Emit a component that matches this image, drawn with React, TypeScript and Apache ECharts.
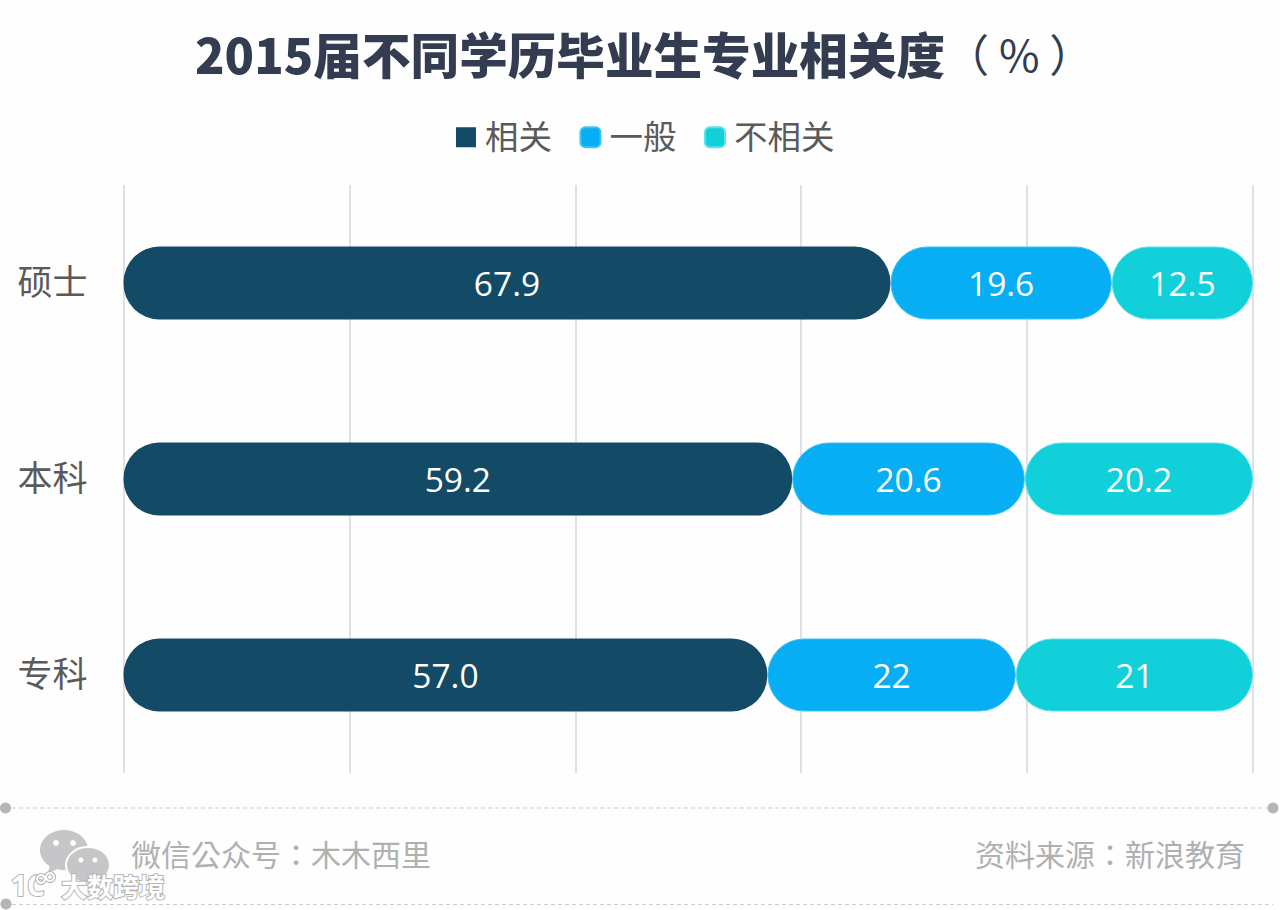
import React, { useEffect, useRef } from "react";
import * as echarts from "echarts";

const categories = ["硕士", "本科", "专科"];
const seriesNames = ["相关", "一般", "不相关"];
const related = [67.9, 59.2, 57.0];
const general = [19.6, 20.6, 22];
const unrelated = [12.5, 20.2, 21];
const relatedLabels = ["67.9", "59.2", "57.0"];
const generalLabels = ["19.6", "20.6", "22"];
const unrelatedLabels = ["12.5", "20.2", "21"];
const colors = ["#134a66", "#07aef3", "#12d0da"];
const CJK = '"Noto Sans CJK SC", "Noto Sans", sans-serif';
const CJK_TC = '"Noto Sans CJK TC", "Noto Sans", sans-serif';

const makeSeries = (name: string, data: number[], labels: string[], color: string, border: string) => ({
  name,
  type: "bar",
  stack: "total",
  data,
  barWidth: 73,
  itemStyle: { color, borderRadius: 36, borderColor: border, borderWidth: border === "transparent" ? 0 : 1 },
  label: {
    show: true,
    position: "inside",
    color: "#ffffff",
    fontSize: 33.5,
    fontFamily: '"Open Sans", sans-serif',
    formatter: (p: any) => labels[p.dataIndex],
  },
});

export default function App() {
  const ref = useRef<HTMLDivElement>(null);
  useEffect(() => {
    document.body.style.margin = "0";
    const chart = echarts.init(ref.current!, null, { renderer: "svg" });
    const dash = { stroke: "#cfcbd2", lineWidth: 1, lineDash: [4, 3] };
    const dot = "#b5b5b8";
    const gray = "#c6c6c8";
    const halo = "#b4b4b4";
    chart.setOption({
      animation: false,
      backgroundColor: "#fefefe",
      color: colors,
      title: {
        left: 195,
        top: 18,
        padding: 0,
        text: "{a|2015届不同学历毕业生专业相关度}{b|（ % ）}",
        textStyle: {
          rich: {
            a: { fontFamily: CJK, fontWeight: 900, fontSize: 48.6, color: "#333c50", lineHeight: 70 },
            b: { fontFamily: CJK, fontWeight: 400, fontSize: 44, color: "#333c50", lineHeight: 70 },
          },
        },
      },
      legend: {
        left: 456,
        top: 118,
        padding: 0,
        itemWidth: 20,
        itemHeight: 20,
        itemGap: 27.5,
        icon: "roundRect",
        selectedMode: false,
        formatter: "{a|{name}}",
        data: [{ name: seriesNames[0], icon: "rect" }, { name: seriesNames[1] }, { name: seriesNames[2] }],
        textStyle: {
          rich: {
            a: { fontFamily: CJK, fontSize: 33.5, color: "#5a5a5a", padding: [0, 0, 5, 4] },
          },
        },
      },
      grid: { left: 123.5, right: 27, top: 185, bottom: 137 },
      xAxis: {
        type: "value",
        min: 0,
        max: 100,
        interval: 20,
        axisLabel: { show: false },
        axisTick: { show: false },
        axisLine: { show: false },
        splitLine: { show: true, lineStyle: { color: "#d5d5dc", width: 1.5 } },
      },
      yAxis: {
        type: "category",
        inverse: true,
        data: categories,
        axisLine: { show: false },
        axisTick: { show: false },
        axisLabel: {
          margin: 36,
          formatter: "{a|{value}}",
          rich: { a: { fontFamily: CJK, fontSize: 35, color: "#5a5a5a", padding: [0, 0, 8, 0] } },
        },
      },
      series: [
        makeSeries(seriesNames[0], related, relatedLabels, colors[0], "transparent"),
        makeSeries(seriesNames[1], general, generalLabels, colors[1], "#3cc4f8"),
        makeSeries(seriesNames[2], unrelated, unrelatedLabels, colors[2], "#55e4ea"),
      ],
      graphic: [
        { type: "line", shape: { x1: 5, y1: 808, x2: 1273, y2: 808 }, style: dash },
        { type: "line", shape: { x1: 5, y1: 904.5, x2: 1273, y2: 904.5 }, style: dash },
        { type: "circle", shape: { cx: 5.5, cy: 808, r: 5.5 }, style: { fill: dot } },
        { type: "circle", shape: { cx: 1273, cy: 808, r: 5.5 }, style: { fill: dot } },
        { type: "circle", shape: { cx: 6, cy: 904, r: 5.5 }, style: { fill: dot } },
        { type: "text", x: 131, y: 838, style: { text: "微信公众号：木木西里", fontFamily: CJK_TC, fontSize: 30, fill: "#b0b0b0" } },
        { type: "text", x: 975, y: 838, style: { text: "资料来源：新浪教育", fontFamily: CJK_TC, fontSize: 30, fill: "#b0b0b0" } },
        // WeChat mark
        { type: "ellipse", shape: { cx: 64, cy: 850, rx: 24, ry: 20 }, style: { fill: gray } },
        { type: "polygon", shape: { points: [[50, 864], [48, 873], [60, 868]] }, style: { fill: gray } },
        { type: "ellipse", shape: { cx: 88, cy: 865, rx: 22, ry: 18 }, style: { fill: gray, stroke: "#fefefe", lineWidth: 2 } },
        { type: "circle", shape: { cx: 56, cy: 843, r: 3 }, style: { fill: "#fefefe" } },
        { type: "circle", shape: { cx: 73, cy: 843, r: 3 }, style: { fill: "#fefefe" } },
        { type: "circle", shape: { cx: 81, cy: 860, r: 2.5 }, style: { fill: "#fefefe" } },
        { type: "circle", shape: { cx: 95, cy: 860, r: 2.5 }, style: { fill: "#fefefe" } },
        // watermark
        { type: "text", x: 11, y: 871, style: { text: "1C", fontFamily: '"Open Sans", sans-serif', fontWeight: 700, fontSize: 28, fill: "#ffffff", stroke: halo, lineWidth: 2 } },
        { type: "circle", shape: { cx: 41, cy: 879, r: 4 }, style: { fill: "none", stroke: halo, lineWidth: 4 } },
        { type: "circle", shape: { cx: 50, cy: 877, r: 4 }, style: { fill: "none", stroke: halo, lineWidth: 4 } },
        { type: "circle", shape: { cx: 41, cy: 879, r: 4 }, style: { fill: "none", stroke: "#ffffff", lineWidth: 2 } },
        { type: "circle", shape: { cx: 50, cy: 877, r: 4 }, style: { fill: "none", stroke: "#ffffff", lineWidth: 2 } },
        { type: "text", x: 61, y: 872, style: { text: "大数跨境", fontFamily: CJK, fontWeight: 700, fontSize: 26, fill: "#ffffff", stroke: halo, lineWidth: 2 } },
      ],
    });
    return () => chart.dispose();
  }, []);
  return <div ref={ref} style={{ position: "absolute", left: 0, top: 0, width: 1280, height: 910 }} />;
}
